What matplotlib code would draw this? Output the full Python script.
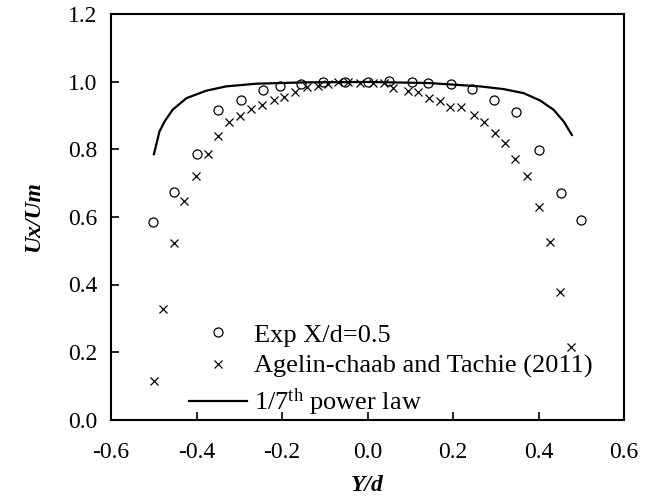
import matplotlib
matplotlib.use('Agg')
from matplotlib import pyplot as plt

plt.rcParams['font.family'] = ['Liberation Serif', 'DejaVu Serif']
plt.rcParams['mathtext.fontset'] = 'custom'
plt.rcParams['mathtext.rm'] = 'Liberation Serif'

# Exp X/d=0.5
exp_x = [-0.503, -0.452, -0.400, -0.349, -0.296, -0.245, -0.206, -0.155, -0.104, -0.052,
         0.0, 0.051, 0.103, 0.142, 0.195, 0.245, 0.296, 0.348, 0.401, 0.452, 0.499]
exp_y = [0.585, 0.675, 0.788, 0.916, 0.946, 0.976, 0.987, 0.994, 0.999, 1.001,
         1.000, 1.003, 1.000, 0.998, 0.993, 0.980, 0.946, 0.911, 0.798, 0.670, 0.590]

# Agelin-chaab and Tachie (2011)
ref_x = [-0.500, -0.479, -0.453, -0.429, -0.401, -0.374, -0.351, -0.324, -0.299, -0.273,
         -0.248, -0.218, -0.195, -0.170, -0.141, -0.116, -0.092, -0.069, -0.045, -0.018,
         0.013, 0.038, 0.060, 0.094, 0.119, 0.144, 0.170, 0.193, 0.218, 0.249,
         0.273, 0.297, 0.322, 0.345, 0.373, 0.400, 0.426, 0.451, 0.477]
ref_y = [0.115, 0.328, 0.524, 0.647, 0.720, 0.787, 0.840, 0.880, 0.900, 0.921,
         0.931, 0.947, 0.957, 0.970, 0.985, 0.987, 0.995, 0.999, 0.999, 0.997,
         0.997, 0.996, 0.982, 0.974, 0.969, 0.952, 0.945, 0.927, 0.925, 0.903,
         0.880, 0.848, 0.819, 0.772, 0.720, 0.629, 0.527, 0.377, 0.216]

# 1/7th power law
law_x = [-0.500, -0.487, -0.475, -0.456, -0.424, -0.378, -0.331, -0.260, -0.143, 0.0,
         0.143, 0.263, 0.318, 0.365, 0.404, 0.435, 0.459, 0.478]
law_y = [0.786, 0.853, 0.883, 0.918, 0.952, 0.974, 0.987, 0.995, 0.999, 1.000,
         0.997, 0.987, 0.979, 0.967, 0.945, 0.918, 0.883, 0.843]

fig = plt.figure(figsize=(6.5, 5), dpi=100)
ax = fig.add_axes([0.171, 0.161, 0.789, 0.810])

ax.plot(exp_x, exp_y, 'o', mfc='none', mec='black', ms=6.5, mew=0.9,
        label='Exp X/d=0.5')
ax.plot(ref_x, ref_y, 'x', color='black', ms=6, mew=0.9,
        label='Agelin-chaab and Tachie (2011)')
ax.plot(law_x, law_y, '-', color='black', lw=1.6,
        label=r'$\mathregular{1/7^{th}}$ power law')

ax.set_xlim(-0.6, 0.6)
ax.set_ylim(0.0, 1.2)
ax.set_xticks([-0.6, -0.4, -0.2, 0.0, 0.2, 0.4, 0.6])
ax.set_yticks([0.0, 0.2, 0.4, 0.6, 0.8, 1.0, 1.2])
ax.xaxis.set_major_formatter(matplotlib.ticker.FormatStrFormatter('%.1f'))
ax.yaxis.set_major_formatter(matplotlib.ticker.FormatStrFormatter('%.1f'))
ax.tick_params(direction='in', length=6, width=1.2, labelsize=17)
ax.tick_params(axis='x', pad=16)
ax.tick_params(axis='y', pad=10)
for s in ax.spines.values():
    s.set_linewidth(1.5)

ax.set_xlabel('Y/d', fontsize=17, fontweight='bold', style='italic', labelpad=9)
ax.set_ylabel('Ux/Um', fontsize=17, fontweight='bold', style='italic', labelpad=17)

ax.legend(loc='lower left', bbox_to_anchor=(0.12, -0.035), frameon=False,
          fontsize=19, handlelength=2.2, labelspacing=0.3, handletextpad=0.3,
          borderaxespad=0.2)

plt.savefig('out.png', dpi=100)
plt.close()
